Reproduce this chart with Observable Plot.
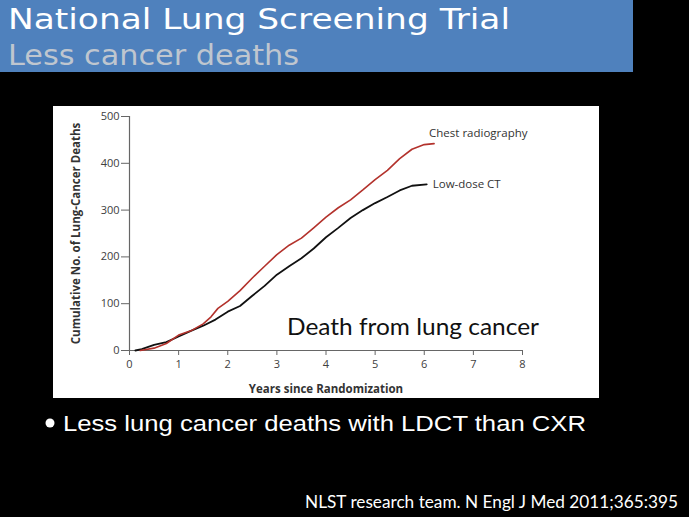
<!DOCTYPE html>
<html>
<head>
<meta charset="utf-8">
<script src="https://cdn.jsdelivr.net/npm/d3@7"></script>
<script src="https://cdn.jsdelivr.net/npm/@observablehq/plot@0.6"></script>
<style>
  html, body { margin: 0; padding: 0; background: #000; }
  #slide { position: relative; width: 689px; height: 517px; overflow: hidden; background: #000; }
  #bar { position: absolute; left: 0; top: 0; width: 633px; height: 72px; background: #4f81bd; }
  #chart { position: absolute; left: 53px; top: 106px; }
  #overlay { position: absolute; left: 0; top: 0; pointer-events: none; }
</style>
</head>
<body>
<div id="slide">
  <div id="bar"></div>
  <div id="chart"></div>
  <svg id="overlay" width="689" height="517">
    <text x="8" y="28.5" fill="#ffffff" font-family="DejaVu Sans" font-size="29" textLength="502" lengthAdjust="spacingAndGlyphs">National Lung Screening Trial</text>
    <text x="8" y="65" fill="#bfc6cf" font-family="DejaVu Sans" font-size="29" textLength="291" lengthAdjust="spacingAndGlyphs">Less cancer deaths</text>
    <circle cx="50" cy="423" r="4.5" fill="#ffffff"></circle>
    <text x="63" y="430.7" fill="#ffffff" font-family="Liberation Sans" font-size="22" textLength="523" lengthAdjust="spacingAndGlyphs">Less lung cancer deaths with LDCT than CXR</text>
    <text x="287" y="335" fill="#111" font-family="Lato" font-size="24" textLength="252" lengthAdjust="spacingAndGlyphs">Death from lung cancer</text>
    <text x="305" y="508.3" fill="#ffffff" font-family="Lato" font-size="17.5" textLength="373" lengthAdjust="spacingAndGlyphs">NLST research team. N Engl J Med 2011;365:395</text>
  </svg>
</div>
<script>
// Years since randomization and cumulative deaths
const cxrYears = [0.22, 0.5, 0.75, 1.0, 1.25, 1.5, 1.66, 1.8, 2.0, 2.25, 2.5, 2.75, 3.0, 3.25, 3.5, 3.75, 4.0, 4.25, 4.5, 4.75, 5.0, 5.25, 5.5, 5.75, 6.0, 6.2];
const cxrDeaths = [0, 5, 15, 33, 42, 57, 72, 90, 105, 128, 155, 180, 205, 225, 240, 262, 285, 305, 322, 343, 365, 385, 410, 430, 440, 442];
const ctYears = [0.12, 0.25, 0.5, 0.75, 1.0, 1.25, 1.5, 1.75, 2.0, 2.25, 2.5, 2.75, 3.0, 3.25, 3.5, 3.75, 4.0, 4.25, 4.5, 4.75, 5.0, 5.25, 5.5, 5.75, 6.05];
const ctDeaths = [0, 3, 12, 18, 30, 42, 53, 66, 83, 95, 117, 138, 162, 180, 197, 218, 242, 262, 283, 300, 315, 328, 342, 352, 355];
const xTicks = [0, 1, 2, 3, 4, 5, 6, 7, 8];
const yTicks = [0, 100, 200, 300, 400, 500];
const seriesNames = ["Chest radiography", "Low-dose CT"];

const cxr = cxrYears.map((t, i) => ({t, v: cxrDeaths[i]}));
const ct = ctYears.map((t, i) => ({t, v: ctDeaths[i]}));

const chart = Plot.plot({
  width: 546,
  height: 292,
  marginLeft: 76,
  marginRight: 77,
  marginTop: 10,
  marginBottom: 48,
  style: {background: "#ffffff", fontFamily: "Open Sans", fontSize: "11px", color: "#404040"},
  x: {domain: [0, 8]},
  y: {domain: [0, 500]},
  marks: [
    Plot.axisX({ticks: xTicks, tickSize: 5, tickPadding: 5, stroke: "#666", label: "Years since Randomization", labelAnchor: "center", labelArrow: "none", labelOffset: 42}),
    Plot.axisY({ticks: yTicks, tickSize: 8, tickPadding: 2, stroke: "#666", label: "Cumulative No. of Lung-Cancer Deaths", labelAnchor: "center", labelArrow: "none", labelOffset: 58}),
    Plot.ruleX([0], {y1: 0, y2: 500, stroke: "#666", strokeWidth: 1.2}),
    Plot.ruleY([0], {x1: 0, x2: 8, stroke: "#666", strokeWidth: 1.2}),
    Plot.line(ct, {x: "t", y: "v", stroke: "#111111", strokeWidth: 1.8}),
    Plot.line(cxr, {x: "t", y: "v", stroke: "#b3322c", strokeWidth: 1.6}),
    Plot.text([cxr[cxr.length - 1]], {x: "t", y: "v", text: () => seriesNames[0], textAnchor: "start", dx: -5, dy: -10, fill: "#333", fontSize: 11.5}),
    Plot.text([ct[ct.length - 1]], {x: "t", y: "v", text: () => seriesNames[1], textAnchor: "start", dx: 6, dy: 0, fill: "#333", fontSize: 11.5})
  ]
});
// bold axis titles like the journal figure
chart.querySelectorAll("g[aria-label='x-axis label'] text, g[aria-label='y-axis label'] text").forEach(t => {
  t.setAttribute("font-weight", "bold");
  t.setAttribute("fill", "#333");
  t.setAttribute("font-size", "11.5");
});
document.getElementById("chart").appendChild(chart);
</script>
</body>
</html>
